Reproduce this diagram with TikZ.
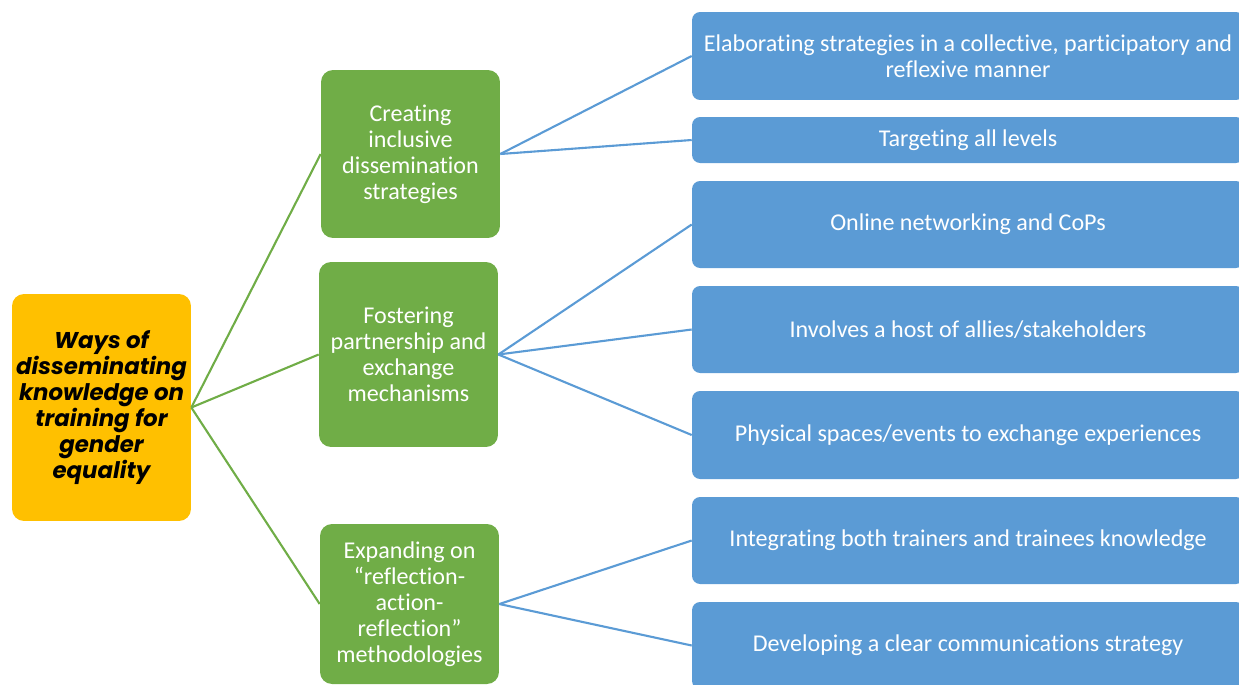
\documentclass[tikz,border=0pt]{standalone}
\usepackage{fontspec}
\setmainfont{Carlito}[Ligatures={TeX,NoCommon}]
\newfontfamily\rootfont{Poppins}
\usetikzlibrary{positioning}
\definecolor{rootyellow}{HTML}{FFC000}
\definecolor{midgreen}{HTML}{70AD47}
\definecolor{leafblue}{HTML}{5B9BD5}
\tikzset{
  box/.style={inner sep=0pt, align=center, text=white,
    font=\fontsize{13.7}{14.8}\selectfont},
  rootbox/.style={box, fill=rootyellow, text=black, rounded corners=0.24cm,
    minimum width=3.58cm, minimum height=4.54cm,
    font=\rootfont\bfseries\itshape\fontsize{13}{14.8}\selectfont},
  midbox/.style={box, fill=midgreen, rounded corners=0.24cm, minimum width=3.58cm},
  leafbox/.style={box, fill=leafblue, rounded corners=0.16cm, minimum width=11.04cm},
  greenlink/.style={draw=midgreen, line width=1.2pt},
  bluelink/.style={draw=leafblue, line width=1.2pt}
}

\begin{document}
\begin{tikzpicture}[x=0.02cm, y=-0.02cm]
    \useasboundingbox (0,0) rectangle (1239,684);
    \clip (0,0) rectangle (1239,684);

    \node[rootbox] (root) at (101.5,407.5) {Ways of\\disseminating\\knowledge on\\training for\\gender\\equality};

    \node[midbox, minimum height=3.36cm] (create) at (410.5,154) {Creating\\inclusive\\dissemination\\strategies};
    \node[midbox, minimum height=3.70cm] (foster) at (408.5,354.5) {Fostering\\partnership and\\exchange\\mechanisms};
    \node[midbox, minimum height=3.20cm] (expand) at (409.5,604) {Expanding on\\“reflection-\\action-\\reflection”\\methodologies};

    \node[leafbox, minimum height=1.76cm] (elab) at (968,56) {Elaborating strategies in a collective, participatory and\\reflexive manner};
    \node[leafbox, minimum height=0.92cm] (target) at (968,140) {Targeting all levels};
    \node[leafbox, minimum height=1.74cm] (online) at (968,224.5) {Online networking and CoPs};
    \node[leafbox, minimum height=1.74cm] (allies) at (968,329.5) {Involves a host of allies/stakeholders};
    \node[leafbox, minimum height=1.76cm] (spaces) at (968,435) {Physical spaces/events to exchange experiences};
    \node[leafbox, minimum height=1.74cm] (integ) at (968,540.5) {Integrating both trainers and trainees knowledge};
    \node[leafbox, minimum height=1.74cm] (comms) at (968,645.5) {Developing a clear communications strategy};

    % root to middle level
    \draw[greenlink] (root.east) -- (create.west);
    \draw[greenlink] (root.east) -- (foster.west);
    \draw[greenlink] (root.east) -- (expand.west);

    % middle level to leaves
    \draw[bluelink] (create.east) -- (elab.west);
    \draw[bluelink] (create.east) -- (target.west);
    \draw[bluelink] (foster.east) -- (online.west);
    \draw[bluelink] (foster.east) -- (allies.west);
    \draw[bluelink] (foster.east) -- (spaces.west);
    \draw[bluelink] (expand.east) -- (integ.west);
    \draw[bluelink] (expand.east) -- (comms.west);
\end{tikzpicture}
\end{document}
